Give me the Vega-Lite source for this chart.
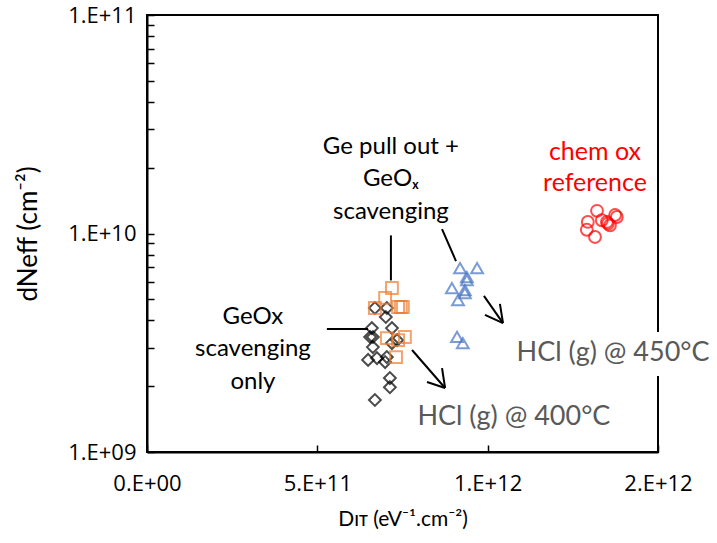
{
  "$schema": "https://vega.github.io/schema/vega-lite/v6.json",
  "width": 511,
  "height": 437,
  "autosize": {"type": "none"},
  "padding": {"left": 147, "top": 15, "right": 59, "bottom": 91},
  "background": "white",
  "config": {
    "view": {"stroke": "#000000", "strokeWidth": 2},
    "font": "Lato",
    "axis": {
      "labelFont": "Open Sans", "labelFontSize": 22, "labelColor": "#000000",
      "titleFont": "Lato", "titleFontSize": 21, "titleFontWeight": "normal", "titleColor": "#000000",
      "domainColor": "#000000", "domainWidth": 2, "tickColor": "#000000", "tickWidth": 1.5,
      "grid": false
    }
  },
  "datasets": {
    "pts": [
      {"series": "GeOx scavenging only", "x": 6.69e11, "y": 4.56e9},
      {"series": "GeOx scavenging only", "x": 7.04e11, "y": 4.56e9},
      {"series": "GeOx scavenging only", "x": 7.01e11, "y": 4.15e9},
      {"series": "GeOx scavenging only", "x": 6.60e11, "y": 3.69e9},
      {"series": "GeOx scavenging only", "x": 7.19e11, "y": 3.69e9},
      {"series": "GeOx scavenging only", "x": 6.63e11, "y": 3.36e9},
      {"series": "GeOx scavenging only", "x": 6.55e11, "y": 3.36e9},
      {"series": "GeOx scavenging only", "x": 7.34e11, "y": 3.25e9},
      {"series": "GeOx scavenging only", "x": 6.63e11, "y": 3.02e9},
      {"series": "GeOx scavenging only", "x": 7.19e11, "y": 3.15e9},
      {"series": "GeOx scavenging only", "x": 6.49e11, "y": 2.64e9},
      {"series": "GeOx scavenging only", "x": 6.75e11, "y": 2.69e9},
      {"series": "GeOx scavenging only", "x": 6.99e11, "y": 2.58e9},
      {"series": "GeOx scavenging only", "x": 7.04e11, "y": 2.72e9},
      {"series": "GeOx scavenging only", "x": 7.13e11, "y": 2.18e9},
      {"series": "GeOx scavenging only", "x": 7.13e11, "y": 1.98e9},
      {"series": "GeOx scavenging only", "x": 6.69e11, "y": 1.73e9},
      {"series": "Ge pull out + GeOx scavenging", "x": 7.19e11, "y": 5.63e9},
      {"series": "Ge pull out + GeOx scavenging", "x": 6.99e11, "y": 5.07e9},
      {"series": "Ge pull out + GeOx scavenging", "x": 6.69e11, "y": 4.56e9},
      {"series": "Ge pull out + GeOx scavenging", "x": 7.37e11, "y": 4.61e9},
      {"series": "Ge pull out + GeOx scavenging", "x": 7.45e11, "y": 4.61e9},
      {"series": "Ge pull out + GeOx scavenging", "x": 7.51e11, "y": 4.61e9},
      {"series": "Ge pull out + GeOx scavenging", "x": 7.04e11, "y": 3.32e9},
      {"series": "Ge pull out + GeOx scavenging", "x": 7.57e11, "y": 3.36e9},
      {"series": "Ge pull out + GeOx scavenging", "x": 7.37e11, "y": 3.25e9},
      {"series": "Ge pull out + GeOx scavenging", "x": 7.31e11, "y": 2.72e9},
      {"series": "HCl 450", "x": 9.19e11, "y": 6.95e9},
      {"series": "HCl 450", "x": 9.69e11, "y": 6.95e9},
      {"series": "HCl 450", "x": 9.39e11, "y": 6.32e9},
      {"series": "HCl 450", "x": 9.39e11, "y": 6.12e9},
      {"series": "HCl 450", "x": 8.95e11, "y": 5.63e9},
      {"series": "HCl 450", "x": 9.33e11, "y": 5.51e9},
      {"series": "HCl 450", "x": 9.33e11, "y": 5.34e9},
      {"series": "HCl 450", "x": 9.13e11, "y": 4.96e9},
      {"series": "HCl 450", "x": 9.10e11, "y": 3.36e9},
      {"series": "HCl 450", "x": 9.27e11, "y": 3.15e9},
      {"series": "chem ox reference", "x": 1.321e12, "y": 1.27e10},
      {"series": "chem ox reference", "x": 1.294e12, "y": 1.13e10},
      {"series": "chem ox reference", "x": 1.335e12, "y": 1.15e10},
      {"series": "chem ox reference", "x": 1.350e12, "y": 1.13e10},
      {"series": "chem ox reference", "x": 1.374e12, "y": 1.215e10},
      {"series": "chem ox reference", "x": 1.379e12, "y": 1.19e10},
      {"series": "chem ox reference", "x": 1.291e12, "y": 1.04e10},
      {"series": "chem ox reference", "x": 1.359e12, "y": 1.09e10},
      {"series": "chem ox reference", "x": 1.315e12, "y": 9.64e9},
      {"series": "chem ox reference", "x": 1.353e12, "y": 1.11e10}
    ],
    "segs": [
      {"x": 7.16e11, "y": 9.8e9, "x2": 7.16e11, "y2": 6.1e9},
      {"x": 8.66e11, "y": 1.048e10, "x2": 9.07e11, "y2": 7.48e9},
      {"x": 5.28e11, "y": 3.66e9, "x2": 6.49e11, "y2": 3.66e9},
      {"x": 7.78e11, "y": 2.93e9, "x2": 8.75e11, "y2": 1.963e9},
      {"x": 8.22e11, "y": 2.09e9, "x2": 8.75e11, "y2": 1.963e9},
      {"x": 8.66e11, "y": 2.42e9, "x2": 8.75e11, "y2": 1.963e9},
      {"x": 9.89e11, "y": 5.18e9, "x2": 1.045e12, "y2": 3.89e9},
      {"x": 9.92e11, "y": 4.24e9, "x2": 1.045e12, "y2": 3.89e9},
      {"x": 1.036e12, "y": 4.76e9, "x2": 1.045e12, "y2": 3.89e9}
    ]
  },
  "layer": [
    {
      "data": {"name": "pts"},
      "mark": {"type": "point", "filled": false, "strokeWidth": 2, "size": 140},
      "encoding": {
        "x": {
          "field": "x", "type": "quantitative",
          "scale": {"domain": [0, 1.5e12], "nice": false, "zero": false},
          "axis": {
            "title": "Dɪᴛ (eV⁻¹.cm⁻²)",
            "values": [0, 5e11, 1e12, 1.5e12],
            "labelExpr": "datum.value == 0 ? '0.E+00' : datum.value == 5e11 ? '5.E+11' : datum.value == 1e12 ? '1.E+12' : '2.E+12'",
            "labelFont": "Open Sans", "labelFontSize": 22,
            "tickSize": -7, "labelPadding": 28, "titlePadding": 14,
            "labelFlush": false, "labelOverlap": false
          }
        },
        "y": {
          "field": "y", "type": "quantitative",
          "scale": {"type": "log", "domain": [1e9, 1e11], "nice": false},
          "axis": {
            "title": "dNeff (cm⁻²)",
            "titleFontSize": 26,
            "values": [1e9, 2e9, 3e9, 4e9, 5e9, 6e9, 7e9, 8e9, 9e9, 1e10, 2e10, 3e10, 4e10, 5e10, 6e10, 7e10, 8e10, 9e10, 1e11],
            "labelExpr": "datum.value == 1e9 ? '1.E+09' : datum.value == 1e10 ? '1.E+10' : datum.value == 1e11 ? '1.E+11' : ''",
            "labelFont": "Open Sans", "labelFontSize": 22,
            "tickSize": -7, "labelPadding": 18, "titlePadding": 26,
            "labelFlush": false, "labelOverlap": false
          }
        },
        "shape": {
          "field": "series", "type": "nominal",
          "scale": {
            "domain": ["GeOx scavenging only", "Ge pull out + GeOx scavenging", "HCl 450", "chem ox reference"],
            "range": ["diamond", "square", "triangle-up", "circle"]
          },
          "legend": null
        },
        "color": {
          "field": "series", "type": "nominal",
          "scale": {
            "domain": ["GeOx scavenging only", "Ge pull out + GeOx scavenging", "HCl 450", "chem ox reference"],
            "range": ["#000000", "#ED7D31", "#4472C4", "#FF0000"]
          },
          "legend": null
        }
      }
    },
    {
      "data": {"name": "segs"},
      "mark": {"type": "rule", "color": "#000000", "strokeWidth": 2},
      "encoding": {
        "x": {"field": "x", "type": "quantitative"},
        "y": {"field": "y", "type": "quantitative"},
        "x2": {"field": "x2"},
        "y2": {"field": "y2"}
      }
    },
    {
      "data": {"values": [
        {"x": 7.16e11, "y": 2.49e10, "label": "Ge pull out +\nGeOₓ\nscavenging"},
        {"x": 3.11e11, "y": 4.15e9, "label": "GeOx\nscavenging\nonly"}
      ]},
      "mark": {"type": "text", "font": "Lato", "fontSize": 24, "color": "#000000", "lineBreak": "\n", "lineHeight": 32.5, "align": "center", "baseline": "middle"},
      "encoding": {
        "x": {"field": "x", "type": "quantitative"},
        "y": {"field": "y", "type": "quantitative"},
        "text": {"field": "label"}
      }
    },
    {
      "data": {"values": [
        {"x": 1.315e12, "y": 2.36e10, "label": "chem ox\nreference"}
      ]},
      "mark": {"type": "text", "font": "Lato", "fontSize": 25, "color": "#FF0000", "lineBreak": "\n", "lineHeight": 31, "align": "center", "baseline": "middle"},
      "encoding": {
        "x": {"field": "x", "type": "quantitative"},
        "y": {"field": "y", "type": "quantitative"},
        "text": {"field": "label"}
      }
    },
    {
      "data": {"values": [
        {"x": 1.33e12, "x2": 1.66e12, "y": 3.54e9, "y2": 2.23e9}
      ]},
      "mark": {"type": "rect", "color": "#FFFFFF"},
      "encoding": {
        "x": {"field": "x", "type": "quantitative"},
        "x2": {"field": "x2"},
        "y": {"field": "y", "type": "quantitative"},
        "y2": {"field": "y2"}
      }
    },
    {
      "data": {"values": [
        {"x": 1.368e12, "y": 2.84e9, "label": "HCl (g) @ 450°C"},
        {"x": 1.077e12, "y": 1.445e9, "label": "HCl (g) @ 400°C"}
      ]},
      "mark": {"type": "text", "font": "Lato", "fontSize": 27, "color": "#595959", "align": "center", "baseline": "middle"},
      "encoding": {
        "x": {"field": "x", "type": "quantitative"},
        "y": {"field": "y", "type": "quantitative"},
        "text": {"field": "label"}
      }
    }
  ]
}
